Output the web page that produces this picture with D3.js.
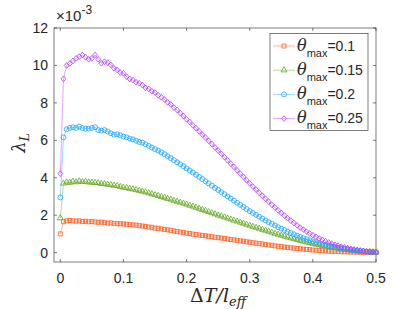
<!DOCTYPE html>
<html>
<head>
<meta charset="utf-8">
<script src="https://cdn.jsdelivr.net/npm/d3@7"></script>
<style>
  body { margin: 0; background: #fff; }
  svg { display: block; }
</style>
</head>
<body>
<script>
// data (lambda_L in units of 1e-3)
var xs = [0, 0.005, 0.01, 0.015, 0.02, 0.025, 0.03, 0.035, 0.04, 0.045,
  0.05, 0.055, 0.06, 0.065, 0.07, 0.075, 0.08, 0.085, 0.09, 0.095,
  0.1, 0.105, 0.11, 0.115, 0.12, 0.125, 0.13, 0.135, 0.14, 0.145,
  0.15, 0.155, 0.16, 0.165, 0.17, 0.175, 0.18, 0.185, 0.19, 0.195,
  0.2, 0.205, 0.21, 0.215, 0.22, 0.225, 0.23, 0.235, 0.24, 0.245,
  0.25, 0.255, 0.26, 0.265, 0.27, 0.275, 0.28, 0.285, 0.29, 0.295,
  0.3, 0.305, 0.31, 0.315, 0.32, 0.325, 0.33, 0.335, 0.34, 0.345,
  0.35, 0.355, 0.36, 0.365, 0.37, 0.375, 0.38, 0.385, 0.39, 0.395,
  0.4, 0.405, 0.41, 0.415, 0.42, 0.425, 0.43, 0.435, 0.44, 0.445,
  0.45, 0.455, 0.46, 0.465, 0.47, 0.475, 0.48, 0.485, 0.49, 0.495, 0.5];

var theta01 = [1.0, 1.65, 1.70, 1.72, 1.70, 1.68, 1.70, 1.66, 1.68, 1.65,
  1.66, 1.64, 1.62, 1.63, 1.60, 1.58, 1.59, 1.56, 1.55, 1.54,
  1.53, 1.52, 1.50, 1.48, 1.47, 1.44, 1.42, 1.40, 1.37, 1.35,
  1.31, 1.30, 1.27, 1.24, 1.22, 1.19, 1.16, 1.13, 1.10, 1.07,
  1.04, 1.02, 0.99, 0.97, 0.94, 0.92, 0.90, 0.87, 0.85, 0.82,
  0.80, 0.78, 0.75, 0.73, 0.70, 0.68, 0.66, 0.63, 0.61, 0.58,
  0.56, 0.53, 0.51, 0.48, 0.46, 0.43, 0.41, 0.39, 0.36, 0.34,
  0.32, 0.30, 0.28, 0.26, 0.24, 0.22, 0.21, 0.19, 0.17, 0.16,
  0.14, 0.13, 0.12, 0.10, 0.09, 0.08, 0.07, 0.07, 0.06, 0.05,
  0.05, 0.04, 0.04, 0.03, 0.03, 0.02, 0.02, 0.02, 0.01, 0.01, 0.01];

var theta015 = [1.85, 3.70, 3.76, 3.74, 3.80, 3.77, 3.82, 3.78, 3.80, 3.76,
  3.75, 3.73, 3.72, 3.68, 3.67, 3.64, 3.62, 3.59, 3.57, 3.52,
  3.48, 3.46, 3.42, 3.39, 3.35, 3.31, 3.27, 3.23, 3.18, 3.13,
  3.08, 3.04, 2.98, 2.94, 2.88, 2.84, 2.78, 2.73, 2.68, 2.63,
  2.58, 2.52, 2.47, 2.41, 2.35, 2.29, 2.24, 2.18, 2.12, 2.06,
  2.00, 1.95, 1.89, 1.83, 1.78, 1.72, 1.67, 1.61, 1.56, 1.50,
  1.45, 1.39, 1.34, 1.29, 1.23, 1.18, 1.13, 1.08, 1.02, 0.97,
  0.92, 0.87, 0.82, 0.78, 0.73, 0.69, 0.64, 0.60, 0.56, 0.52,
  0.48, 0.44, 0.41, 0.37, 0.34, 0.31, 0.28, 0.25, 0.23, 0.20,
  0.18, 0.16, 0.14, 0.12, 0.10, 0.08, 0.07, 0.05, 0.04, 0.03, 0.02];

var theta02 = [2.95, 6.16, 6.59, 6.66, 6.70, 6.66, 6.73, 6.66, 6.62, 6.63,
  6.66, 6.70, 6.55, 6.52, 6.55, 6.47, 6.38, 6.30, 6.32, 6.27,
  6.20, 6.16, 6.09, 6.05, 5.98, 5.91, 5.88, 5.79, 5.70, 5.62,
  5.53, 5.45, 5.36, 5.26, 5.15, 5.05, 4.94, 4.83, 4.72, 4.61,
  4.50, 4.39, 4.28, 4.16, 4.05, 3.93, 3.81, 3.70, 3.58, 3.46,
  3.35, 3.23, 3.12, 3.00, 2.89, 2.78, 2.66, 2.55, 2.44, 2.33,
  2.22, 2.12, 2.02, 1.92, 1.82, 1.72, 1.63, 1.54, 1.45, 1.36,
  1.28, 1.20, 1.12, 1.05, 0.98, 0.91, 0.84, 0.78, 0.72, 0.66,
  0.60, 0.55, 0.50, 0.45, 0.41, 0.37, 0.33, 0.29, 0.26, 0.23,
  0.20, 0.17, 0.15, 0.12, 0.10, 0.08, 0.07, 0.05, 0.04, 0.03, 0.02];

var theta025 = [4.22, 9.28, 10.00, 10.10, 10.24, 10.38, 10.47, 10.56, 10.44, 10.33,
  10.38, 10.56, 10.33, 10.12, 10.20, 10.15, 10.03, 9.85, 9.76, 9.62,
  9.58, 9.40, 9.28, 9.22, 9.10, 9.05, 8.95, 8.80, 8.75, 8.62,
  8.55, 8.40, 8.30, 8.18, 8.03, 7.92, 7.75, 7.62, 7.45, 7.30,
  7.12, 6.98, 6.80, 6.65, 6.48, 6.30, 6.15, 5.97, 5.80, 5.62,
  5.45, 5.28, 5.10, 4.93, 4.75, 4.58, 4.40, 4.22, 4.05, 3.87,
  3.70, 3.53, 3.37, 3.20, 3.04, 2.88, 2.72, 2.56, 2.41, 2.26,
  2.12, 1.98, 1.84, 1.71, 1.58, 1.46, 1.34, 1.23, 1.12, 1.02,
  0.93, 0.84, 0.76, 0.68, 0.61, 0.54, 0.48, 0.42, 0.37, 0.32,
  0.28, 0.24, 0.20, 0.17, 0.14, 0.11, 0.09, 0.07, 0.05, 0.04, 0.03];

var seriesLabels = ["0.1", "0.15", "0.2", "0.25"];
var xTicks = [0, 0.1, 0.2, 0.3, 0.4, 0.5];
var yTicks = [0, 2, 4, 6, 8, 10, 12];

var colors = ["#ff5a1e", "#62a81e", "#1aa6ff", "#b53dff"];

var width = 415,
    height = 309,
    margin = {top: 28, right: 39, bottom: 47, left: 54};

var x = d3.scaleLinear()
    .domain([-0.01, 0.5])
    .range([margin.left, width - margin.right]);

var y = d3.scaleLinear()
    .domain([-0.5, 12])
    .range([height - margin.bottom, margin.top]);

var diamond = {
  draw: function(ctx, size) {
    var r = Math.sqrt(size) / 2 * 1.25;
    ctx.moveTo(0, -r); ctx.lineTo(r * 0.85, 0); ctx.lineTo(0, r); ctx.lineTo(-r * 0.85, 0); ctx.closePath();
  }
};
var shapes = [
  d3.symbol().type(d3.symbolSquare).size(16),
  d3.symbol().type(d3.symbolTriangle).size(15),
  d3.symbol().type(d3.symbolCircle).size(19),
  d3.symbol().type(diamond).size(21)
];

var svg = d3.select("body").append("svg")
    .attr("width", width)
    .attr("height", height)
    .style("font-family", "'Liberation Sans', Arial, sans-serif");

var axisColor = "#262626";

// box
svg.append("rect")
    .attr("x", x(-0.01)).attr("y", y(12))
    .attr("width", x(0.5) - x(-0.01))
    .attr("height", y(-0.5) - y(12))
    .attr("fill", "none")
    .attr("stroke", axisColor)
    .attr("stroke-width", 0.6);

// ticks (inside, all four sides)
var tl = 3;
xTicks.forEach(function(t) {
  svg.append("line").attr("x1", x(t)).attr("x2", x(t)).attr("y1", y(-0.5)).attr("y2", y(-0.5) - tl)
      .attr("stroke", axisColor).attr("stroke-width", 0.6);
  svg.append("line").attr("x1", x(t)).attr("x2", x(t)).attr("y1", y(12)).attr("y2", y(12) + tl)
      .attr("stroke", axisColor).attr("stroke-width", 0.6);
  svg.append("text").attr("x", x(t)).attr("y", y(-0.5) + 21)
      .attr("text-anchor", "middle").attr("font-size", 14).attr("fill", axisColor)
      .text(t === 0 ? "0" : d3.format(".1f")(t));
});
yTicks.forEach(function(t) {
  svg.append("line").attr("x1", x(-0.01)).attr("x2", x(-0.01) + tl).attr("y1", y(t)).attr("y2", y(t))
      .attr("stroke", axisColor).attr("stroke-width", 0.6);
  svg.append("line").attr("x1", x(0.5)).attr("x2", x(0.5) - tl).attr("y1", y(t)).attr("y2", y(t))
      .attr("stroke", axisColor).attr("stroke-width", 0.6);
  svg.append("text").attr("x", x(-0.01) - 6).attr("y", y(t) + 5)
      .attr("text-anchor", "end").attr("font-size", 14).attr("fill", axisColor)
      .text(t);
});

// exponent label
var expo = svg.append("text").attr("x", 56).attr("y", 21).attr("font-size", 15).attr("fill", axisColor);
expo.append("tspan").text("\u00d710");
expo.append("tspan").attr("dy", -7).attr("font-size", 12).text("-3");

// axis labels
var xl = svg.append("text").attr("x", 218).attr("y", 302)
    .attr("text-anchor", "middle").attr("font-size", 19).attr("fill", axisColor)
    .style("font-family", "'DejaVu Serif', 'Liberation Serif', serif");
xl.append("tspan").text("\u0394");
xl.append("tspan").attr("font-style", "italic").text("T/l");
xl.append("tspan").attr("font-style", "italic").attr("font-size", 13).attr("dy", 4).text("eff");

var yl = svg.append("text")
    .attr("transform", "translate(25," + 143 + ") rotate(-90)")
    .attr("text-anchor", "middle").attr("font-size", 18).attr("fill", axisColor)
    .style("font-family", "'DejaVu Serif', 'Liberation Serif', serif");
yl.append("tspan").attr("font-style", "italic").text("\u03bb");
yl.append("tspan").attr("font-style", "italic").attr("font-size", 12).attr("dy", 4).text("L");

// series
var allSeries = [theta01, theta015, theta02, theta025];
var line = d3.line()
    .x(function(d, i) { return x(xs[i]); })
    .y(function(d) { return y(d); });

allSeries.forEach(function(vals, k) {
  var g = svg.append("g");
  g.append("path")
      .attr("d", line(vals))
      .attr("fill", "none")
      .attr("stroke", colors[k])
      .attr("stroke-opacity", 0.45)
      .attr("stroke-width", 1);
  g.selectAll("path.m")
      .data(vals)
    .enter().append("path")
      .attr("class", "m")
      .attr("d", shapes[k])
      .attr("transform", function(d, i) { return "translate(" + x(xs[i]) + "," + y(d) + ")"; })
      .attr("fill", "none")
      .attr("stroke", colors[k])
      .attr("stroke-width", 0.8);
});

// legend
var lg = svg.append("g");
lg.append("rect")
    .attr("x", 270).attr("y", 33.5)
    .attr("width", 98).attr("height", 97)
    .attr("fill", "#fff")
    .attr("stroke", axisColor)
    .attr("stroke-width", 0.6);

seriesLabels.forEach(function(lab, k) {
  var cy = 46 + k * 24.2;
  lg.append("line").attr("x1", 273).attr("x2", 295).attr("y1", cy).attr("y2", cy)
      .attr("stroke", colors[k]).attr("stroke-opacity", 0.45);
  lg.append("path").attr("d", shapes[k])
      .attr("transform", "translate(284," + cy + ")")
      .attr("fill", "none").attr("stroke", colors[k]).attr("stroke-width", 0.8);
  var t = lg.append("text").attr("x", 297).attr("y", cy + 4.5).attr("font-size", 14).attr("fill", axisColor);
  t.append("tspan").attr("font-style", "italic").attr("font-size", 16)
      .style("font-family", "'DejaVu Serif', 'Liberation Serif', serif").text("\u03b8");
  t.append("tspan").attr("font-size", 11).attr("dy", 6).text("max");
  t.append("tspan").attr("dy", -6).text("=" + lab);
});
</script>
</body>
</html>
